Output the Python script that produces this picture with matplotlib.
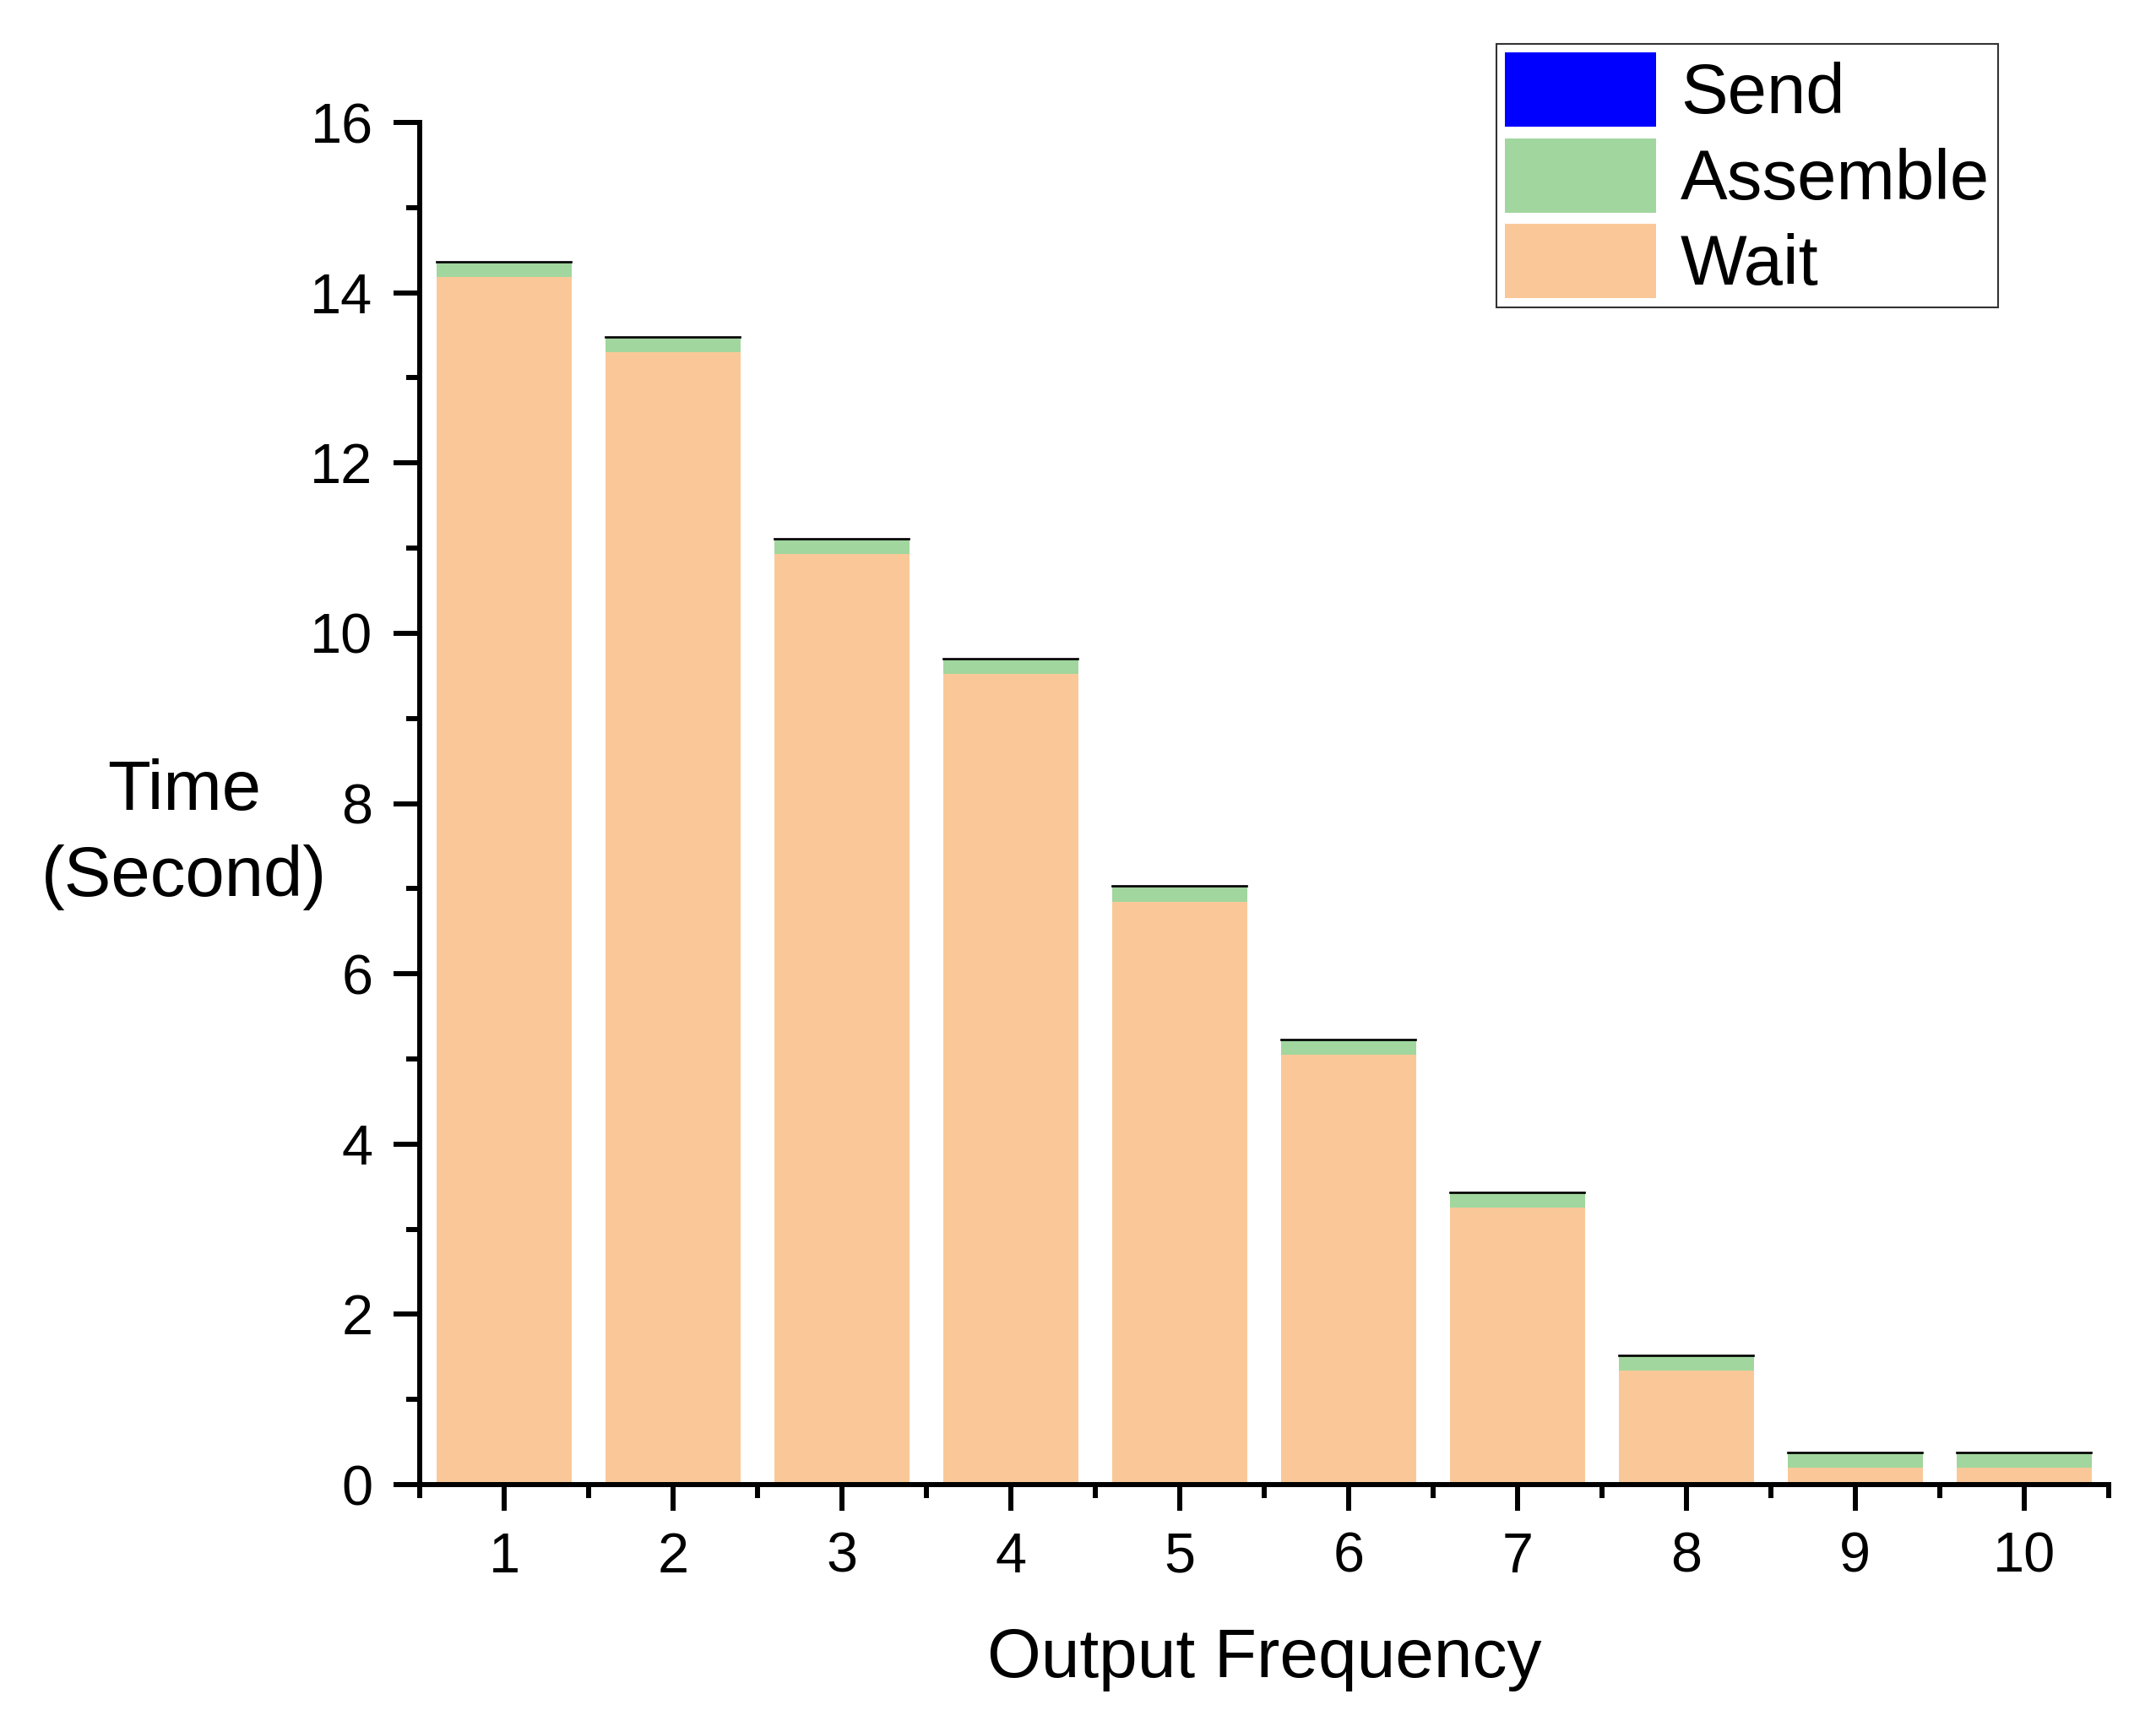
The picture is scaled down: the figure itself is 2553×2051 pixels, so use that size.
import matplotlib
matplotlib.use("Agg")
import matplotlib.pyplot as plt
import numpy as np
from matplotlib.patches import Patch

plt.rcParams['font.family'] = ['Liberation Sans', 'DejaVu Sans']

freq = [1, 2, 3, 4, 5, 6, 7, 8, 9, 10]
wait = [14.18, 13.30, 10.93, 9.52, 6.85, 5.05, 3.25, 1.34, 0.20, 0.20]
assemble = [0.17, 0.17, 0.17, 0.17, 0.17, 0.17, 0.17, 0.17, 0.17, 0.17]
send = [0.01, 0.01, 0.01, 0.01, 0.01, 0.01, 0.01, 0.01, 0.01, 0.01]

c_wait = '#FAC898'
c_asm = '#A1D69E'
c_send = '#0000FF'

fig = plt.figure(figsize=(25.53, 20.51), dpi=100)
ax = fig.add_axes([0.1947, 0.1428, 0.7833, 0.7865])

x = np.array(freq)
wait = np.array(wait)
assemble = np.array(assemble)
send = np.array(send)

ax.bar(x, wait, width=0.8, color=c_wait, linewidth=0)
ax.bar(x, assemble, width=0.8, bottom=wait, color=c_asm, linewidth=0)
ax.bar(x, send, width=0.8, bottom=wait + assemble, color=c_send,
       edgecolor='black', linewidth=1.2)

ax.set_xlim(0.5, 10.5)
ax.set_ylim(0, 16)
ax.set_xticks(freq)
ax.set_xticks(np.arange(0.5, 11, 1.0), minor=True)
ax.set_yticks(np.arange(0, 17, 2))
ax.set_yticks(np.arange(1, 16, 2), minor=True)

for s in ['top', 'right']:
    ax.spines[s].set_visible(False)
for s in ['left', 'bottom']:
    ax.spines[s].set_linewidth(4.3)

ax.tick_params(axis='both', which='major', direction='out', length=22,
               width=4.3, labelsize=48, pad=18)
ax.tick_params(axis='both', which='minor', direction='out', length=11.5,
               width=4.3)

fig.text(1497 / 2553, 1 - 1965 / 2051, 'Output Frequency', fontsize=59,
         ha='center', va='center')
fig.text(218 / 2553, 1 - 988 / 2051, 'Time\n(Second)', fontsize=60,
         ha='center', va='center', multialignment='center', linespacing=1.38)

handles = [Patch(facecolor=c_send), Patch(facecolor=c_asm), Patch(facecolor=c_wait)]
leg = fig.legend(handles, ['Send', 'Assemble', 'Wait'], loc='upper right',
                 bbox_to_anchor=(2366 / 2553, 1 - 52 / 2051), fontsize=60,
                 frameon=True, fancybox=False, handlelength=2.15,
                 handleheight=1.25, labelspacing=0.15, borderpad=0.12,
                 handletextpad=0.34, borderaxespad=0)
leg.get_frame().set_edgecolor('black')
leg.get_frame().set_linewidth(1.5)

fig.savefig('out.png', dpi=100)
